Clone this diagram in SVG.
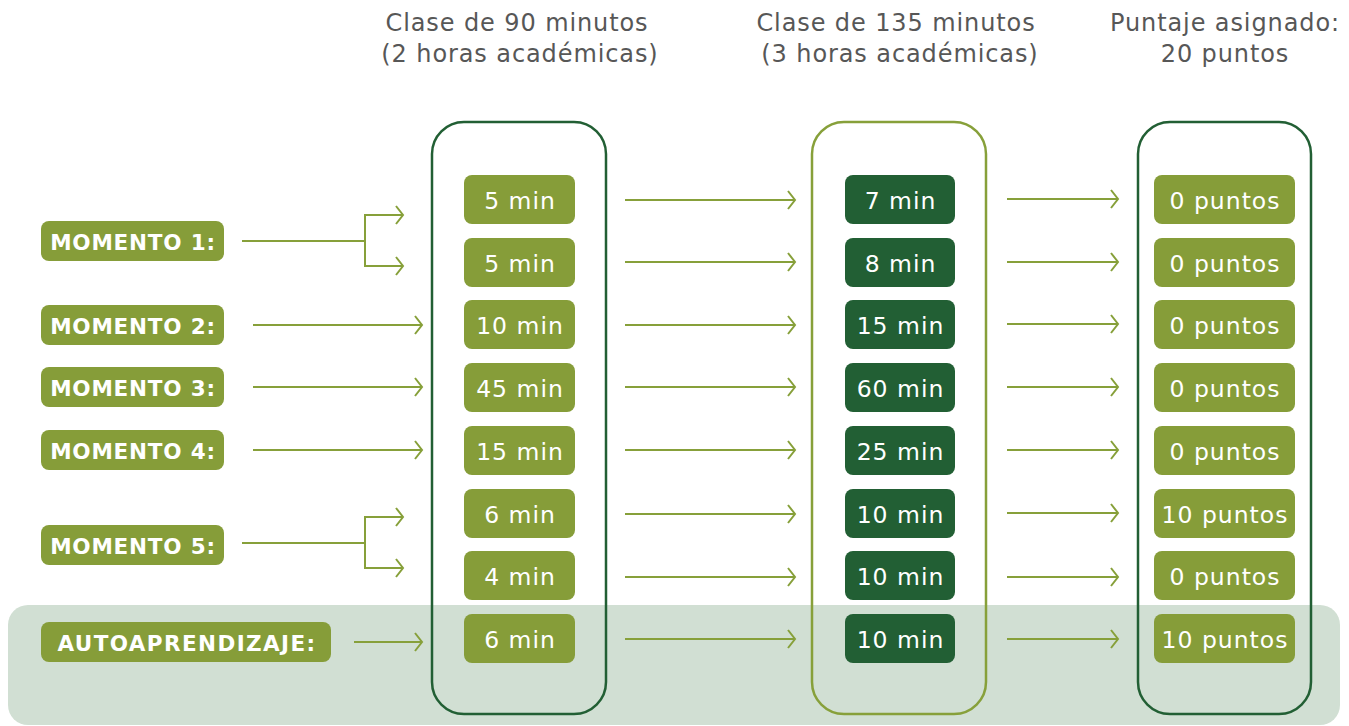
<svg xmlns="http://www.w3.org/2000/svg" width="1349" height="726" viewBox="0 0 1349 726">
<defs>
<marker id="ah" markerUnits="userSpaceOnUse" markerWidth="12" markerHeight="20" refX="9" refY="10" orient="auto">
<path d="M2,1 L9,10 L2,19" fill="none" stroke="#87a03a" stroke-width="2"/>
</marker>
</defs>
<style>
.hdr{font-family:"DejaVu Sans","Liberation Sans",sans-serif;font-size:24px;letter-spacing:0.9px;fill:#575757;text-anchor:middle}
.lp{fill:#869d39}
.dp{fill:#225f34}
.pt{font-family:"DejaVu Sans","Liberation Sans",sans-serif;font-size:23.5px;letter-spacing:1px;fill:#ffffff;text-anchor:middle;dominant-baseline:central}
.lt{font-family:"DejaVu Sans","Liberation Sans",sans-serif;font-size:21.5px;letter-spacing:0.8px;font-weight:bold;fill:#ffffff;text-anchor:middle;dominant-baseline:central}
.ar{stroke:#87a03a;stroke-width:2;fill:none;marker-end:url(#ah)}
.ln{stroke:#87a03a;stroke-width:2;fill:none}
</style>
<rect x="8" y="605" width="1332" height="120" rx="20" fill="#d1dfd3"/>
<g id="headers">
<text class="hdr" x="517" y="31">Clase de 90 minutos</text>
<text class="hdr" x="520" y="62">(2 horas académicas)</text>
<text class="hdr" x="896" y="31">Clase de 135 minutos</text>
<text class="hdr" x="900" y="62">(3 horas académicas)</text>
<text class="hdr" x="1225" y="31">Puntaje asignado:</text>
<text class="hdr" x="1225" y="62">20 puntos</text>
</g>
<g id="col1"><rect x="432" y="122" width="174" height="592" rx="32" fill="none" stroke="#225f34" stroke-width="2.5"/></g>
<g id="col2"><rect x="812" y="122" width="174" height="592" rx="32" fill="none" stroke="#87a03a" stroke-width="2.5"/></g>
<g id="col3"><rect x="1138" y="122" width="173" height="592" rx="32" fill="none" stroke="#225f34" stroke-width="2.5"/></g>
<g id="connectors">
<path class="ln" d="M242,241 H365 M365,214 V267"/>
<path class="ar" d="M365,215 H403"/>
<path class="ar" d="M365,266 H403"/>
<path class="ar" d="M253,325 H422"/>
<path class="ar" d="M253,387 H422"/>
<path class="ar" d="M253,450 H422"/>
<path class="ln" d="M242,543 H365 M365,516 V569"/>
<path class="ar" d="M365,517 H403"/>
<path class="ar" d="M365,568 H403"/>
<path class="ar" d="M354,642 H422"/>
<path class="ar" d="M625,200 H795"/>
<path class="ar" d="M625,262 H795"/>
<path class="ar" d="M625,325 H795"/>
<path class="ar" d="M625,387 H795"/>
<path class="ar" d="M625,450 H795"/>
<path class="ar" d="M625,514 H795"/>
<path class="ar" d="M625,577 H795"/>
<path class="ar" d="M625,639 H795"/>
<path class="ar" d="M1007,199 H1118"/>
<path class="ar" d="M1007,262 H1118"/>
<path class="ar" d="M1007,324 H1118"/>
<path class="ar" d="M1007,387 H1118"/>
<path class="ar" d="M1007,450 H1118"/>
<path class="ar" d="M1007,513 H1118"/>
<path class="ar" d="M1007,577 H1118"/>
<path class="ar" d="M1007,639 H1118"/>
</g>
<g id="m1"><rect class="lp" x="41" y="221" width="183" height="40" rx="8"/><text class="lt" x="133" y="242">MOMENTO 1:</text></g>
<g id="m2"><rect class="lp" x="41" y="305" width="183" height="40" rx="8"/><text class="lt" x="133" y="326">MOMENTO 2:</text></g>
<g id="m3"><rect class="lp" x="41" y="367" width="183" height="40" rx="8"/><text class="lt" x="133" y="388">MOMENTO 3:</text></g>
<g id="m4"><rect class="lp" x="41" y="430" width="183" height="40" rx="8"/><text class="lt" x="133" y="451">MOMENTO 4:</text></g>
<g id="m5"><rect class="lp" x="41" y="525" width="183" height="40" rx="8"/><text class="lt" x="133" y="546">MOMENTO 5:</text></g>
<g id="auto"><rect class="lp" x="41" y="622" width="290" height="40" rx="8"/><text class="lt" x="187" y="643" style="letter-spacing:1.4px">AUTOAPRENDIZAJE:</text></g>
<g id="a1"><rect class="lp" x="464" y="175" width="111" height="49" rx="8"/><text class="pt" x="520" y="201">5 min</text></g>
<g id="a2"><rect class="lp" x="464" y="238" width="111" height="49" rx="8"/><text class="pt" x="520" y="264">5 min</text></g>
<g id="a3"><rect class="lp" x="464" y="300" width="111" height="49" rx="8"/><text class="pt" x="520" y="326">10 min</text></g>
<g id="a4"><rect class="lp" x="464" y="363" width="111" height="49" rx="8"/><text class="pt" x="520" y="389">45 min</text></g>
<g id="a5"><rect class="lp" x="464" y="426" width="111" height="49" rx="8"/><text class="pt" x="520" y="452">15 min</text></g>
<g id="a6"><rect class="lp" x="464" y="489" width="111" height="49" rx="8"/><text class="pt" x="520" y="515">6 min</text></g>
<g id="a7"><rect class="lp" x="464" y="551" width="111" height="49" rx="8"/><text class="pt" x="520" y="577">4 min</text></g>
<g id="a8"><rect class="lp" x="464" y="614" width="111" height="49" rx="8"/><text class="pt" x="520" y="640">6 min</text></g>
<g id="b1"><rect class="dp" x="845" y="175" width="110" height="49" rx="8"/><text class="pt" x="900.5" y="201">7 min</text></g>
<g id="b2"><rect class="dp" x="845" y="238" width="110" height="49" rx="8"/><text class="pt" x="900.5" y="264">8 min</text></g>
<g id="b3"><rect class="dp" x="845" y="300" width="110" height="49" rx="8"/><text class="pt" x="900.5" y="326">15 min</text></g>
<g id="b4"><rect class="dp" x="845" y="363" width="110" height="49" rx="8"/><text class="pt" x="900.5" y="389">60 min</text></g>
<g id="b5"><rect class="dp" x="845" y="426" width="110" height="49" rx="8"/><text class="pt" x="900.5" y="452">25 min</text></g>
<g id="b6"><rect class="dp" x="845" y="489" width="110" height="49" rx="8"/><text class="pt" x="900.5" y="515">10 min</text></g>
<g id="b7"><rect class="dp" x="845" y="551" width="110" height="49" rx="8"/><text class="pt" x="900.5" y="577">10 min</text></g>
<g id="b8"><rect class="dp" x="845" y="614" width="110" height="49" rx="8"/><text class="pt" x="900.5" y="640">10 min</text></g>
<g id="c1"><rect class="lp" x="1154" y="175" width="141" height="49" rx="8"/><text class="pt" x="1225" y="201">0 puntos</text></g>
<g id="c2"><rect class="lp" x="1154" y="238" width="141" height="49" rx="8"/><text class="pt" x="1225" y="264">0 puntos</text></g>
<g id="c3"><rect class="lp" x="1154" y="300" width="141" height="49" rx="8"/><text class="pt" x="1225" y="326">0 puntos</text></g>
<g id="c4"><rect class="lp" x="1154" y="363" width="141" height="49" rx="8"/><text class="pt" x="1225" y="389">0 puntos</text></g>
<g id="c5"><rect class="lp" x="1154" y="426" width="141" height="49" rx="8"/><text class="pt" x="1225" y="452">0 puntos</text></g>
<g id="c6"><rect class="lp" x="1154" y="489" width="141" height="49" rx="8"/><text class="pt" x="1225" y="515">10 puntos</text></g>
<g id="c7"><rect class="lp" x="1154" y="551" width="141" height="49" rx="8"/><text class="pt" x="1225" y="577">0 puntos</text></g>
<g id="c8"><rect class="lp" x="1154" y="614" width="141" height="49" rx="8"/><text class="pt" x="1225" y="640">10 puntos</text></g>
</svg>
